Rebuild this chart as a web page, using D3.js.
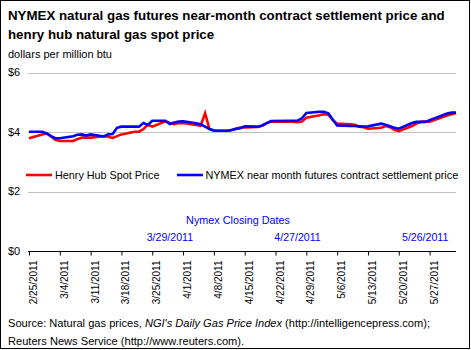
<!DOCTYPE html>
<html>
<head>
<meta charset="utf-8">
<script src="https://cdn.jsdelivr.net/npm/d3@7"></script>
<style>
  body { margin: 0; background: #fff; }
  svg { display: block; font-family: "Liberation Sans", Arial, sans-serif; }
</style>
</head>
<body>
<div id="chart"></div>
<script>
// trading days
const DATES = [
  "2011-02-25","2011-02-28","2011-03-01","2011-03-02","2011-03-03","2011-03-04",
  "2011-03-07","2011-03-08","2011-03-09","2011-03-10","2011-03-11",
  "2011-03-14","2011-03-15","2011-03-16","2011-03-17","2011-03-18",
  "2011-03-21","2011-03-22","2011-03-23","2011-03-24","2011-03-25",
  "2011-03-28","2011-03-29","2011-03-30","2011-03-31","2011-04-01",
  "2011-04-04","2011-04-05","2011-04-06","2011-04-07","2011-04-08",
  "2011-04-11","2011-04-12","2011-04-13","2011-04-14","2011-04-15",
  "2011-04-18","2011-04-19","2011-04-20","2011-04-21",
  "2011-04-25","2011-04-26","2011-04-27","2011-04-28","2011-04-29",
  "2011-05-02","2011-05-03","2011-05-04","2011-05-05","2011-05-06",
  "2011-05-09","2011-05-10","2011-05-11","2011-05-12","2011-05-13",
  "2011-05-16","2011-05-17","2011-05-18","2011-05-19","2011-05-20",
  "2011-05-23","2011-05-24","2011-05-25","2011-05-26","2011-05-27",
  "2011-05-31","2011-06-01","2011-06-02"
];

const HENRY_HUB = [
  3.79, 3.92, 3.96, 3.85, 3.74, 3.70,
  3.70, 3.76, 3.81, 3.81, 3.81,
  3.86, 3.84, 3.80, 3.86, 3.92,
  4.01, 4.01, 4.10, 4.24, 4.18,
  4.36, 4.30, 4.26, 4.30, 4.30,
  4.24, 4.21, 4.63, 4.10, 4.04,
  4.04, 4.06, 4.12, 4.15, 4.15,
  4.17, 4.22, 4.30, 4.35,
  4.35, 4.35, 4.33, 4.35, 4.48,
  4.56, 4.60, 4.58, 4.40, 4.28,
  4.26, 4.24, 4.18, 4.16, 4.11,
  4.14, 4.20, 4.16, 4.07, 4.03,
  4.20, 4.28, 4.34, 4.35, 4.35,
  4.55, 4.60, 4.64
];

const NYMEX = [
  4.01, 4.01, 3.95, 3.86, 3.79, 3.79,
  3.86, 3.91, 3.92, 3.88, 3.92,
  3.85, 3.92, 3.93, 4.14, 4.18,
  4.18, 4.18, 4.30, 4.24, 4.38,
  4.38, 4.27, 4.32, 4.35, 4.36,
  4.29, 4.26, 4.18, 4.10, 4.05,
  4.04, 4.07, 4.10, 4.13, 4.19,
  4.18, 4.22, 4.30, 4.37,
  4.38, 4.38, 4.38, 4.46, 4.64,
  4.68, 4.68, 4.63, 4.42, 4.22,
  4.20, 4.20, 4.19, 4.18, 4.19,
  4.28, 4.24, 4.19, 4.14, 4.11,
  4.30, 4.34, 4.34, 4.34, 4.40,
  4.62, 4.65, 4.65
];

const TICK_DATES = [
  "2011-02-25","2011-03-04","2011-03-11","2011-03-18","2011-03-25","2011-04-01",
  "2011-04-08","2011-04-15","2011-04-22","2011-04-29","2011-05-06","2011-05-13",
  "2011-05-20","2011-05-27"
];
const Y_TICKS = [0, 2, 4, 6];
const CLOSING_DATES = ["2011-03-29", "2011-04-27", "2011-05-26"];

const SERIES = [
  { name: "Henry Hub Spot Price", values: HENRY_HUB, color: "#ff0000" },
  { name: "NYMEX near month futures contract settlement price", values: NYMEX, color: "#0000ff" }
];

const parse = d3.timeParse("%Y-%m-%d");
const fmt = d3.timeFormat("%-m/%-d/%Y");

const W = 471, H = 350;
const svg = d3.select("#chart").append("svg")
  .attr("width", W).attr("height", H);

// frame
svg.append("rect")
  .attr("x", 0.5).attr("y", 0.5)
  .attr("width", 469).attr("height", 348)
  .attr("fill", "#fff").attr("stroke", "#000").attr("stroke-width", 1);

// ---- titles ----
svg.append("text")
  .attr("x", 8).attr("y", 20)
  .attr("font-size", 13.3).attr("font-weight", "bold")
  .text("NYMEX natural gas futures near-month contract settlement price and");
svg.append("text")
  .attr("x", 8).attr("y", 38.5)
  .attr("font-size", 13.3).attr("font-weight", "bold")
  .text("henry hub natural gas spot price");
svg.append("text")
  .attr("x", 8).attr("y", 57.5)
  .attr("font-size", 11)
  .text("dollars per million btu");

// ---- scales ----
const x = d3.scaleTime()
  .domain([parse(DATES[0]), parse(DATES[DATES.length - 1])])
  .range([29, 456]);
const y = d3.scaleLinear().domain([0, 6]).range([251, 72.5]);

// gridlines + y labels
svg.append("g").selectAll("line")
  .data(Y_TICKS.filter(v => v > 0))
  .enter().append("line")
  .attr("x1", 28).attr("x2", 456)
  .attr("y1", d => Math.round(y(d)) + 0.5).attr("y2", d => Math.round(y(d)) + 0.5)
  .attr("stroke", "#c0c0c0").attr("stroke-width", 1);

svg.append("g").selectAll("text")
  .data(Y_TICKS)
  .enter().append("text")
  .attr("x", 8).attr("y", d => y(d))
  .attr("dy", "0.36em")
  .attr("font-size", 11)
  .text(d => "$" + d);

// x axis
const xAxis = svg.append("g")
  .attr("transform", `translate(0,${Math.round(y(0)) + 0.5})`)
  .call(d3.axisBottom(x)
    .tickValues(TICK_DATES.map(parse))
    .tickFormat(fmt)
    .tickSize(4)
    .tickSizeOuter(0));
xAxis.select(".domain").attr("stroke", "#000").attr("d", `M28,0H456`);
xAxis.selectAll(".tick line").attr("stroke", "#000");
xAxis.selectAll(".tick text")
  .attr("font-family", "Liberation Sans, Arial, sans-serif")
  .attr("font-size", 10)
  .attr("fill", "#000")
  .attr("transform", "rotate(-90)")
  .attr("text-anchor", "end")
  .attr("x", -9).attr("y", 4).attr("dy", "0.35em");

// ---- lines ----
const line = d3.line()
  .x((d, i) => x(parse(DATES[i])))
  .y(d => y(d));

SERIES.forEach(s => {
  svg.append("path")
    .datum(s.values)
    .attr("fill", "none")
    .attr("stroke", s.color)
    .attr("stroke-width", 2.6)
    .attr("stroke-linejoin", "miter")
    .attr("d", line);
});

// ---- legend ----
const legendY = 175;
const legendPos = [{ x1: 26, x2: 52, tx: 55 }, { x1: 177, x2: 203, tx: 205.5 }];
SERIES.forEach((s, i) => {
  const p = legendPos[i];
  svg.append("line")
    .attr("x1", p.x1).attr("x2", p.x2)
    .attr("y1", legendY).attr("y2", legendY)
    .attr("stroke", s.color).attr("stroke-width", 2.6);
  svg.append("text")
    .attr("x", p.tx).attr("y", legendY)
    .attr("dy", "0.36em")
    .attr("font-size", 10.8)
    .text(s.name);
});

// ---- nymex closing dates ----
svg.append("text")
  .attr("x", 238).attr("y", 224)
  .attr("text-anchor", "middle")
  .attr("font-size", 10.8).attr("fill", "#0000ff")
  .text("Nymex Closing Dates");
svg.append("g").selectAll("text")
  .data(CLOSING_DATES)
  .enter().append("text")
  .attr("x", d => x(parse(d)))
  .attr("y", 241)
  .attr("text-anchor", "middle")
  .attr("font-size", 10.6).attr("fill", "#0000ff")
  .text(d => fmt(parse(d)));

// ---- source ----
const src = svg.append("text")
  .attr("x", 8).attr("y", 327)
  .attr("font-size", 11.1);
src.append("tspan").text("Source: Natural gas prices, ");
src.append("tspan").attr("font-style", "italic").text("NGI's Daily Gas Price Index");
src.append("tspan").text(" (http://intelligencepress.com);");
svg.append("text")
  .attr("x", 8).attr("y", 345)
  .attr("font-size", 11.1)
  .text("Reuters News Service (http://www.reuters.com).");
</script>
</body>
</html>
